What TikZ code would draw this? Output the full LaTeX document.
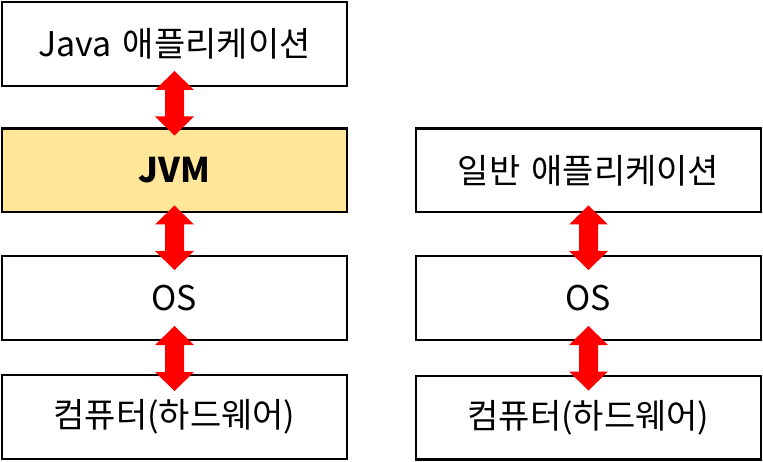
\documentclass[tikz,border=0pt]{standalone}
\usepackage{fontspec}
\setmainfont{Noto Sans CJK KR}
\usetikzlibrary{calc}
\definecolor{jvmyellow}{RGB}{255,230,153}
\begin{document}
\begin{tikzpicture}[x=1pt,y=-1pt,
        layer/.style={draw,line width=2.4pt,minimum width=344.6pt,minimum height=83.6pt,inner sep=0pt,font=\fontsize{34}{40}\selectfont},
        updown/.style={fill=red,draw=none,to path={let \p1=(\tikztostart),\p2=(\tikztotarget) in
            (\x1,\y1) -- (\x1+19.5pt,\y1-19pt) -- (\x1+9.5pt,\y1-19pt) -- (\x1+9.5pt,\y2+19pt) -- (\x1+19.5pt,\y2+19pt)
            -- (\x1,\y2) -- (\x1-19.5pt,\y2+19pt) -- (\x1-9.5pt,\y2+19pt) -- (\x1-9.5pt,\y1-19pt) -- (\x1-19.5pt,\y1-19pt) -- cycle}}]
    \useasboundingbox (0,0) rectangle (763,462);

    % left: java
    \node [layer] (japp) at (174.5,44) {Java\hspace{0.1em} 애플리케이션};
    \node [layer,fill=jvmyellow,font=\fontsize{34}{40}\selectfont\bfseries] (jvm) at (174.5,170.5) {JVM};
    \node [layer] (jos) at (174.5,298) {OS};
    \node [layer] (jhw) at (174.5,417) {컴퓨터(하드웨어)};

    % right: native
    \node [layer] (napp) at (588.5,170.5) {일반\hspace{0.1em} 애플리케이션};
    \node [layer] (nos) at (588.5,298) {OS};
    \node [layer] (nhw) at (588.5,417.5) {컴퓨터(하드웨어)};

    \draw [updown] ([yshift=16pt]japp.south) to ([yshift=-8pt]jvm.north);
    \draw [updown] ([yshift=8pt]jvm.south) to ([yshift=-15pt]jos.north);
    \draw [updown] ([yshift=15pt]jos.south) to ([yshift=-17pt]jhw.north);

    \draw [updown] ([yshift=8pt]napp.south) to ([yshift=-15pt]nos.north);
    \draw [updown] ([yshift=15pt]nos.south) to ([yshift=-16pt]nhw.north);
\end{tikzpicture}
\end{document}
